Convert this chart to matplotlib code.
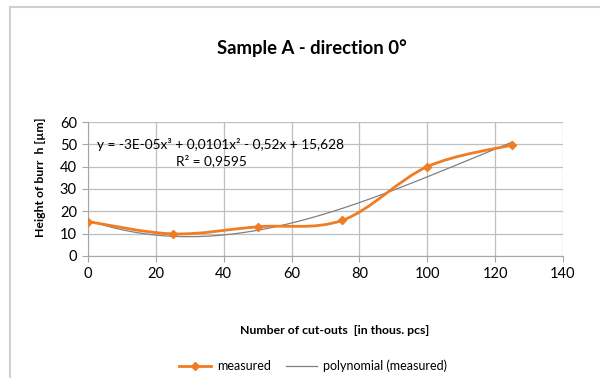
import matplotlib
matplotlib.use("Agg")
import matplotlib.pyplot as plt
from matplotlib.path import Path
from matplotlib.patches import PathPatch
from matplotlib.lines import Line2D
import numpy as np

plt.rcParams['font.family'] = ['Lato', 'DejaVu Sans']

# datos
cortes = [0, 25, 50, 75, 100, 125]
altura = [15.4, 9.9, 13.1, 16.0, 40.0, 49.7]
x_ticks = [0, 20, 40, 60, 80, 100, 120, 140]
y_ticks = [0, 10, 20, 30, 40, 50, 60]

naranja = '#F07C24'
gris_rejilla = '#BFBFBF'


def curva_suave(x, y):
    # curva tipo Excel (bezier a partir de los puntos vecinos)
    pts = np.column_stack([x, y])
    verts = [pts[0]]
    codes = [Path.MOVETO]
    n = len(pts)
    for i in range(n - 1):
        p0 = pts[max(i - 1, 0)]
        p1 = pts[i]
        p2 = pts[i + 1]
        p3 = pts[min(i + 2, n - 1)]
        c1 = p1 + (p2 - p0) / 6
        c2 = p2 - (p3 - p1) / 6
        verts += [c1, c2, p2]
        codes += [Path.CURVE4] * 3
    return Path(verts, codes)


fig = plt.figure(figsize=(6, 3.78), dpi=100)
ax = fig.add_axes([0.1467, 0.3228, 0.7916, 0.3544])

# marco del grafico
fig.add_artist(Line2D([10 / 600, 1], [1 - 7 / 378, 1 - 7 / 378], color='#D0D0D0', lw=1.5))
fig.add_artist(Line2D([10 / 600, 10 / 600], [0, 1 - 7 / 378], color='#D0D0D0', lw=1.5))

# tendencia polinomica
coef = np.polyfit(cortes, altura, 3)
xs = np.linspace(0, 125, 200)
ax.plot(xs, np.polyval(coef, xs), color='#808080', lw=0.9, zorder=3)

# serie medida
ax.add_patch(PathPatch(curva_suave(cortes, altura), fill=False, edgecolor=naranja, lw=2, zorder=4))
ax.plot(cortes, altura, linestyle='none', marker='D', ms=4.5, color=naranja, zorder=5)

ax.set_xlim(0, 140)
ax.set_ylim(0, 60)
ax.set_xticks(x_ticks)
ax.set_yticks(y_ticks)
ax.grid(True, color=gris_rejilla, lw=0.9)
ax.set_axisbelow(True)
for lado in ['top', 'right']:
    ax.spines[lado].set_visible(False)
for lado in ['left', 'bottom']:
    ax.spines[lado].set_color('#A6A6A6')
ax.tick_params(colors='#A6A6A6', labelcolor='black', labelsize=10.5, length=4, width=0.8, pad=4)

ax.text(2.5, 50, 'y = -3E-05x³ + 0,0101x² - 0,52x + 15,628', fontsize=9.8, va='center', ha='left')
ax.text(36.5, 42.5, 'R² = 0,9595', fontsize=9.8, va='center', ha='center')

fig.text(0.52, 1 - 48 / 378, 'Sample A - direction 0°', fontsize=13.3, fontweight='bold', ha='center', va='center')
fig.text(0.067, 1 - 177 / 378, 'Height of burr  h [µm]', fontsize=8.8, fontweight='bold', rotation=90,
         ha='center', va='center')
fig.text(0.557, 1 - 330 / 378, 'Number of cut-outs  [in thous. pcs]', fontsize=8.8, fontweight='bold',
         ha='center', va='center')

h1 = Line2D([], [], color=naranja, lw=2, marker='D', ms=4)
h2 = Line2D([], [], color='#808080', lw=0.9)
fig.legend([h1, h2], ['measured', 'polynomial (measured)'], loc='center', bbox_to_anchor=(0.522, 1 - 366 / 378),
           ncol=2, frameon=False, fontsize=9, handlelength=2.5, handletextpad=0.5, columnspacing=1.2)

fig.savefig('out.png', dpi=100)
